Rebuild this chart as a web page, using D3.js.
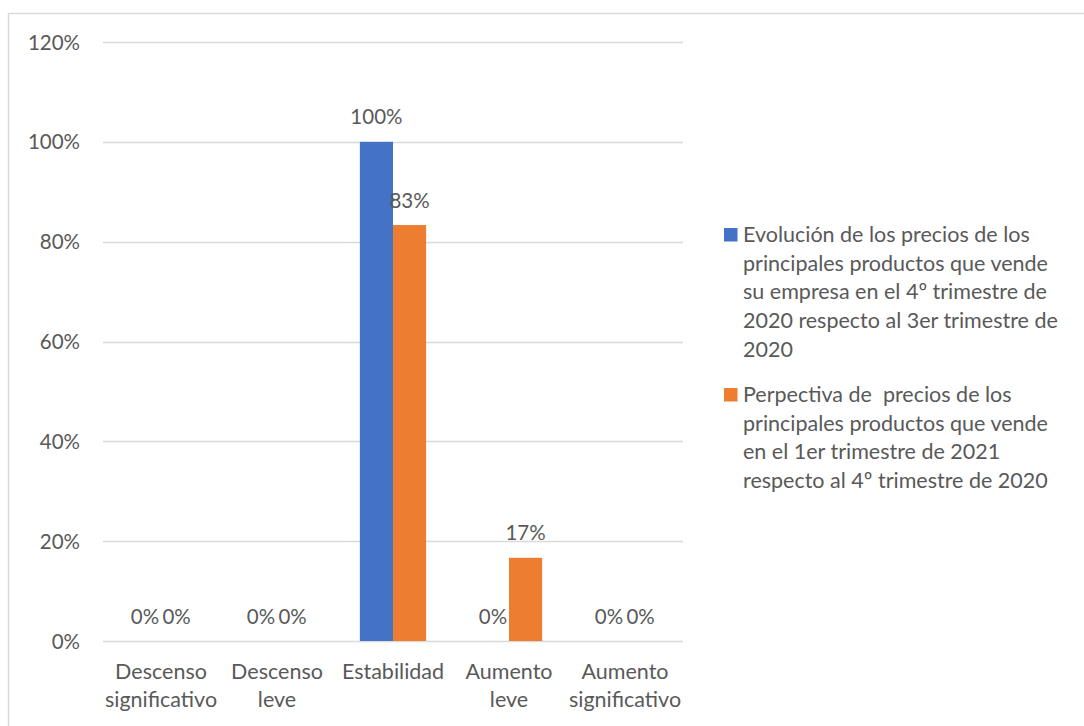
<!DOCTYPE html>
<html>
<head>
<meta charset="utf-8">
<script src="https://cdn.jsdelivr.net/npm/d3@7"></script>
<style>
  body { margin: 0; background: #fff; }
  text { font-family: Lato, "Open Sans", sans-serif; fill: #595959; }
</style>
</head>
<body>
<svg id="chart" width="1084" height="726"></svg>
<script>
const categories = [["Descenso", "significativo"], ["Descenso", "leve"], ["Estabilidad"], ["Aumento", "leve"], ["Aumento", "significativo"]];
const seriesNames = [
  ["Evolución de los precios de los", "principales productos que vende", "su empresa en el 4º trimestre de", "2020 respecto al 3er trimestre de", "2020"],
  ["Perpectiva de  precios de los", "principales productos que vende", "en el 1er trimestre de 2021", "respecto al 4º trimestre de 2020"]
];
const evolucion = [0, 0, 1.0, 0, 0];
const perspectiva = [0, 0, 0.8333, 0.1667, 0];
const yTicks = [0, 0.2, 0.4, 0.6, 0.8, 1.0, 1.2];
const colors = ["#4472c4", "#ed7d31"];

const svg = d3.select("#chart");
const plot = { left: 103, right: 683, top: 42, bottom: 641 };

// chart border
svg.append("rect")
   .attr("x", 8.5).attr("y", 13.5)
   .attr("width", 1090).attr("height", 730)
   .attr("fill", "none").attr("stroke", "#d9d9d9").attr("stroke-width", 1.5);

const x = d3.scaleBand().domain(d3.range(categories.length))
            .range([plot.left, plot.right]).paddingInner(0).paddingOuter(0);
const y = d3.scaleLinear().domain([0, 1.2]).range([plot.bottom, plot.top]);
const barW = x.bandwidth() / 3.5;
const gap = (x.bandwidth() - 2 * barW) / 2;

const fmt = d3.format(".0%");

// grid lines
svg.append("g").selectAll("line").data(yTicks).join("line")
   .attr("x1", plot.left).attr("x2", plot.right)
   .attr("y1", d => Math.round(y(d)) + 0.5).attr("y2", d => Math.round(y(d)) + 0.5)
   .attr("stroke", "#d9d9d9").attr("stroke-width", 1.3);

// y axis labels
svg.append("g").selectAll("text").data(yTicks).join("text")
   .attr("x", 80).attr("y", d => y(d) + 7.5)
   .attr("text-anchor", "end").attr("font-size", 20.5)
   .text(d => fmt(d));

// bars
[evolucion, perspectiva].forEach((vals, s) => {
  const g = svg.append("g");
  g.selectAll("rect").data(vals).join("rect")
   .attr("x", (d, i) => x(i) + gap + s * barW)
   .attr("y", d => y(d))
   .attr("width", barW)
   .attr("height", d => y(0) - y(d))
   .attr("fill", colors[s]);
  g.selectAll("text").data(vals).join("text")
   .attr("x", (d, i) => x(i) + gap + s * barW + barW / 2 + (d === 0 ? (s === 0 ? 0.5 : -1) : 0))
   .attr("y", d => y(d) - 17.5)
   .attr("text-anchor", "middle").attr("font-size", 20.5)
   .text(d => fmt(d));
});

// category labels
categories.forEach((lines, i) => {
  const t = svg.append("text")
     .attr("x", x(i) + x.bandwidth() / 2).attr("y", 679)
     .attr("text-anchor", "middle").attr("font-size", 21.5);
  lines.forEach((l, j) => {
    t.append("tspan").attr("x", x(i) + x.bandwidth() / 2).attr("dy", j === 0 ? 0 : 28).text(l);
  });
});

// legend
const legendTop = [228, 388];
seriesNames.forEach((lines, s) => {
  svg.append("rect")
     .attr("x", 724).attr("y", legendTop[s])
     .attr("width", 13.5).attr("height", 13.5)
     .attr("fill", colors[s]);
  const t = svg.append("text").attr("x", 743).attr("y", legendTop[s] + 14)
     .attr("font-size", 21.5).style("white-space", "pre");
  lines.forEach((l, j) => {
    t.append("tspan").attr("x", 743).attr("dy", j === 0 ? 0 : 28.7).text(l);
  });
});
</script>
</body>
</html>
